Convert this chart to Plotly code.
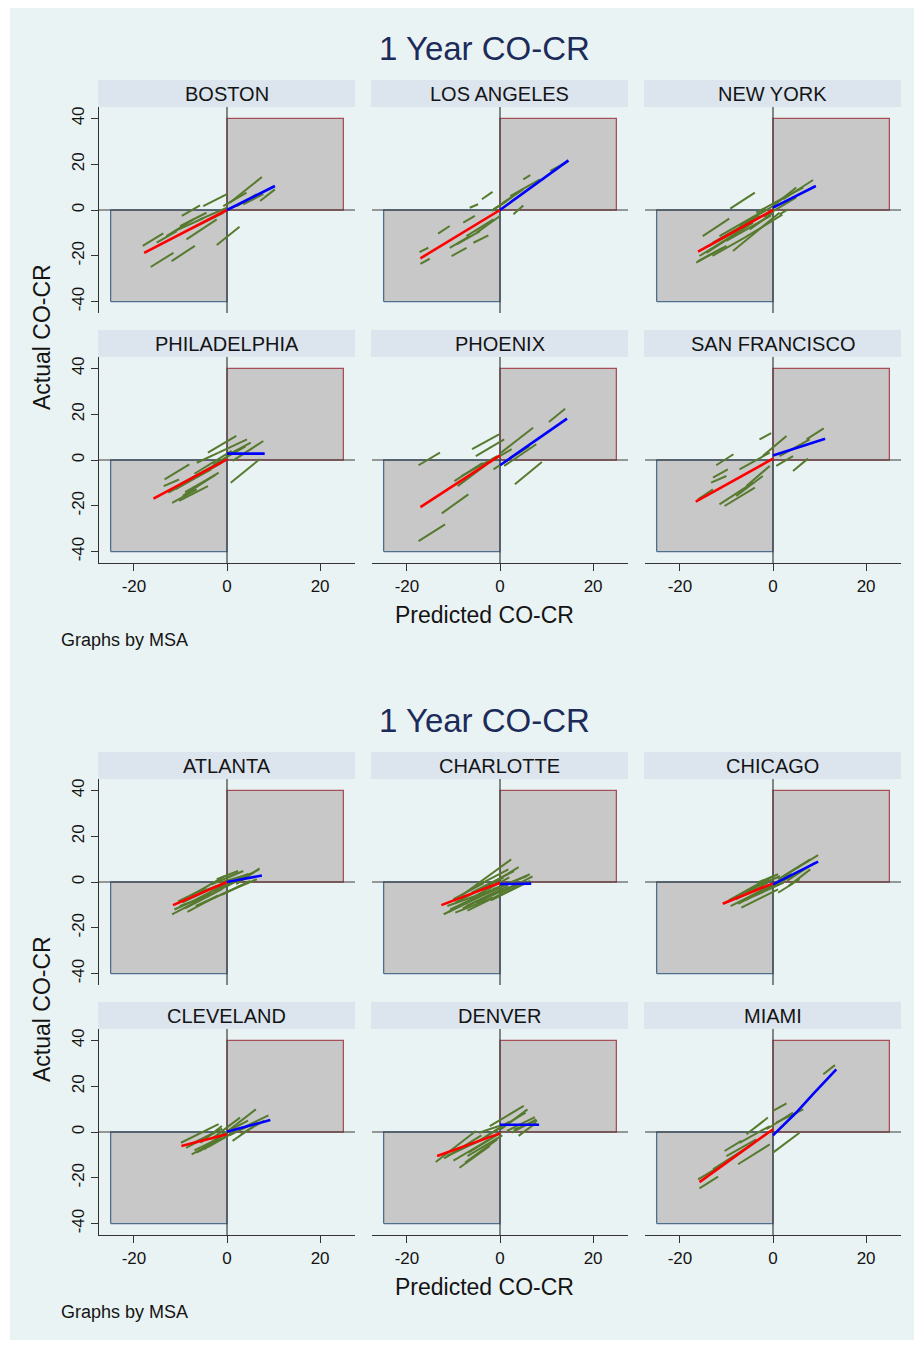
import plotly.graph_objects as go

# page body has an 8px margin in the browser; the figure is sized/offset to compensate
OFF = 8
W, H = 924 - OFF, 1347 - OFF

GRAPH_TITLE = "1 Year CO-CR"
X_TITLE = "Predicted CO-CR"
Y_TITLE = "Actual CO-CR"
NOTE = "Graphs by MSA"

CITIES_TOP = ["BOSTON", "LOS ANGELES", "NEW YORK", "PHILADELPHIA", "PHOENIX", "SAN FRANCISCO"]
CITIES_BOTTOM = ["ATLANTA", "CHARLOTTE", "CHICAGO", "CLEVELAND", "DENVER", "MIAMI"]

X_TICKS = [-20, 0, 20]
X_TICK_LABELS = ["-20", "0", "20"]
Y_TICKS = [-40, -20, 0, 20, 40]
Y_TICK_LABELS = ["-40", "-20", "0", "20", "40"]
X_RANGE = [-27.5, 27.5]
Y_RANGE = [-45, 45]

# quadrant boxes (data units)
BOX_NEG_X = [-25, 0]
BOX_NEG_Y = [-40, 0]
BOX_POS_X = [0, 25]
BOX_POS_Y = [0, 40]

# green segments: (x0, y0, x1, y1)
BOSTON_SEG = [
    (-18.1, -15.7, -13.7, -10.2), (-16.4, -24.9, -11.5, -18.7), (-11.9, -22.3, -6.9, -15.7),
    (-9.7, -2.6, -5.8, 2.0), (-2.2, -15.3, 2.7, -7.3), (-5.1, 1.7, 0.0, 6.9),
    (-10.1, -7.0, -4.4, -1.2), (-13.0, -11.4, -7.2, -4.1), (-8.7, -12.8, -2.2, -4.1),
    (-8.0, -8.5, -0.8, -1.2), (-5.8, -4.1, 0.0, 1.0), (-0.8, 1.7, 4.2, 7.6),
    (0.6, 3.2, 7.5, 14.4), (2.1, 1.7, 6.4, 6.9), (7.1, 3.9, 10.3, 9.0),
    (3.5, 2.5, 7.8, 6.9), (-15.1, -14.3, -10.8, -9.2), (-11.0, -9.0, -5.0, -3.5),
]
LOSANGELES_SEG = [
    (-17.3, -18.4, -15.4, -16.5), (-17.1, -23.5, -15.1, -21.3), (-13.3, -10.3, -10.8, -7.0),
    (-10.4, -20.1, -7.2, -16.5), (-10.8, -16.5, -6.5, -11.4), (-5.7, -14.3, -2.5, -11.1),
    (-7.9, -5.5, -5.4, -2.6), (-6.5, 1.0, -4.7, 2.5), (-3.9, 4.7, -1.6, 7.9),
    (-5.0, -9.9, 0.0, -2.6), (-7.2, -11.4, -1.4, -4.1), (-1.4, 0.3, 1.4, 3.9),
    (0.7, 3.2, 5.0, 9.0), (2.9, -1.9, 5.0, 2.0), (5.0, 13.4, 6.5, 15.2),
    (2.2, 6.1, 8.6, 13.4), (10.8, 17.1, 14.7, 21.4), (-1.8, -0.4, 2.9, 6.1),
    (-9.3, -15.0, -4.3, -9.2),
]
NEWYORK_SEG = [
    (-9.2, 0.6, -3.9, 7.6), (-15.1, -11.4, -9.4, -3.8), (-16.5, -23.0, -10.0, -15.7),
    (-15.8, -20.1, -7.2, -9.2), (-14.3, -18.7, -4.3, -5.5), (-8.6, -17.9, 1.4, -1.2),
    (-12.9, -14.3, -2.9, -2.6), (-11.5, -11.4, -1.4, 0.3), (-7.2, -7.0, 0.0, 1.7),
    (-3.6, -1.2, 2.9, 6.1), (0.0, 1.7, 5.0, 9.8), (2.2, 4.7, 8.6, 13.1),
    (1.4, -1.9, 3.2, 0.3), (-16.1, -22.3, -10.8, -16.5), (-5.0, -8.5, 0.0, -1.2),
    (2.9, 6.1, 6.5, 9.8), (-14.0, -16.0, -5.0, -6.0), (-10.0, -13.5, -0.5, -2.5),
    (-6.0, -12.0, 2.0, -2.0), (-2.0, -3.0, 5.0, 5.5), (-13.0, -20.0, -6.0, -12.0),
]
PHILADELPHIA_SEG = [
    (-13.4, -8.5, -8.1, -1.9), (-13.6, -11.4, -10.3, -8.5), (-11.8, -18.7, -6.5, -12.8),
    (-10.3, -17.9, -4.1, -11.4), (-12.6, -14.3, -3.4, -4.1), (-11.1, -12.8, -1.1, -1.2),
    (-6.5, -1.2, -1.8, 3.2), (-4.1, 3.2, 2.0, 10.5), (-1.8, 3.2, 4.3, 9.0),
    (-0.3, 1.7, 5.1, 7.6), (1.2, -0.4, 7.8, 8.3), (0.8, -9.9, 7.0, 0.3),
    (-8.0, -8.5, -0.3, 0.3), (-9.5, -15.7, -1.8, -5.5), (-10.0, -10.5, -2.0, -1.5),
    (-7.0, -6.0, 1.0, 4.0), (-3.0, -2.0, 4.0, 6.0), (-9.0, -14.0, -2.5, -6.5),
]
PHOENIX_SEG = [
    (-17.5, -2.3, -12.9, 3.2), (-17.5, -35.4, -11.8, -28.1), (-12.5, -23.3, -6.8, -15.0),
    (-9.8, -9.2, -3.7, -1.2), (-8.3, -7.0, -0.6, 1.7), (-6.0, 4.7, -0.2, 11.2),
    (-5.2, 1.7, 0.9, 9.0), (3.2, -10.6, 9.0, -0.9), (10.5, 16.6, 14.0, 22.4),
    (0.2, 3.2, 7.1, 14.1), (-1.4, -4.1, 6.3, 6.1), (0.9, -2.6, 7.8, 6.9),
    (-3.7, -2.6, 2.5, 4.7), (-9.1, -11.4, -2.9, -1.9),
]
SANFRANCISCO_SEG = [
    (-12.2, -2.3, -8.5, 2.5), (-12.9, -7.7, -9.7, -4.1), (-13.3, -9.9, -10.0, -7.0),
    (-11.5, -19.4, -4.3, -9.9), (-10.4, -20.1, -3.9, -12.1), (-16.1, -17.2, -12.9, -12.8),
    (-7.2, -4.1, -0.7, 3.2), (-2.9, 9.0, -0.4, 11.7), (-2.2, 1.7, 2.9, 10.5),
    (0.7, -2.6, 4.3, 1.7), (1.4, 1.7, 7.9, 9.0), (4.3, -4.8, 7.5, 0.6),
    (7.2, 9.0, 10.9, 13.8), (-5.7, -11.4, -0.7, -2.6), (-7.9, -15.7, -2.2, -7.0),
]
ATLANTA_SEG = [
    (-11.8, -14.1, -5.6, -7.6), (-11.3, -12.0, -3.3, -4.7), (-9.6, -9.0, -2.2, -1.7),
    (-7.8, -6.1, -0.5, 2.6), (-6.7, -10.5, 1.3, -3.2), (-5.0, -9.0, 3.5, -1.0),
    (-3.3, -1.0, 3.5, 4.8), (-1.6, -0.3, 5.8, 4.1), (0.1, -1.7, 6.9, 5.5),
    (1.3, -3.2, 6.4, 1.2), (-10.1, -10.5, -3.9, -6.1), (-2.2, 1.2, 2.4, 4.8),
    (-6.1, -4.7, 0.7, 0.4), (-9.0, -11.5, -1.0, -3.0), (-7.0, -8.0, 1.0, 0.5),
    (-4.5, -6.5, 3.0, 1.5), (-3.0, -4.0, 4.5, 3.5), (-10.5, -8.5, -4.5, -2.5),
    (-8.5, -13.0, -2.0, -6.0), (-1.0, -5.5, 5.0, 0.5), (2.0, -1.0, 7.0, 6.0),
]
CHARLOTTE_SEG = [
    (-12.1, -14.1, -3.9, -6.1), (-10.7, -12.0, -1.6, -3.2), (-9.6, -9.0, 0.7, 1.9),
    (-8.4, -6.1, 2.4, 9.9), (-6.1, -4.7, 3.0, 4.8), (-3.9, -6.1, 6.4, 3.4),
    (-1.6, -3.2, 5.8, 2.6), (-11.3, -10.5, -3.3, -4.7), (-7.3, -10.5, 1.8, -1.7),
    (-5.0, -1.7, 1.8, 5.5), (-9.6, -13.4, -1.6, -6.9), (-1.6, -7.6, 5.2, -0.3),
    (-11.0, -13.0, -3.0, -4.5), (-8.0, -11.5, 0.5, -3.0), (-6.5, -7.5, 2.0, 2.0),
    (-4.0, -3.5, 4.0, 6.5), (-2.0, -8.0, 6.5, 0.5), (-10.0, -7.5, -3.5, -0.5),
    (-7.0, -12.5, 0.0, -5.5), (0.0, -5.0, 7.0, 2.5), (-5.0, -9.0, 3.5, -1.0),
]
CHICAGO_SEG = [
    (-10.2, -9.0, -2.3, -0.3), (-9.1, -10.5, -0.6, -1.7), (-6.8, -11.2, 1.1, -3.2),
    (-5.7, -4.7, 0.0, 2.6), (-4.0, -6.1, 2.3, -0.3), (1.1, 1.2, 8.0, 9.9),
    (2.3, 2.6, 9.7, 11.7), (1.1, -4.7, 5.7, 1.2), (3.4, -1.7, 8.0, 5.5),
    (-8.0, -7.6, -1.1, -0.3), (-3.4, -0.3, 1.1, 3.4), (-9.5, -8.0, -2.0, 0.5),
    (-7.5, -9.5, 0.0, -1.5), (-6.0, -8.0, 2.0, 0.0), (-2.0, -3.0, 4.0, 3.5),
    (0.0, -2.0, 6.0, 5.0), (3.0, 0.5, 9.0, 8.5), (-4.5, -2.5, 1.5, 2.5),
]
CLEVELAND_SEG = [
    (-9.9, -4.7, -1.8, 3.4), (-7.6, -9.8, 0.1, -1.7), (-6.5, -9.0, -0.3, -0.3),
    (-4.9, -7.6, 0.8, 1.2), (-8.8, -6.9, -2.6, -0.3), (-3.4, -3.2, 2.8, 6.3),
    (-0.3, -0.3, 6.2, 9.9), (1.2, -3.9, 5.8, 2.6), (2.8, 1.2, 8.9, 7.3),
    (-5.7, -4.7, -1.1, 2.6), (-8.0, -5.5, -1.0, 1.5), (-6.0, -8.5, 1.0, -0.5),
    (-4.0, -6.5, 2.0, 0.5), (-2.0, -2.0, 4.5, 5.0), (0.5, -1.5, 6.5, 4.5),
    (3.0, -1.0, 8.0, 5.0), (-7.0, -8.0, -2.0, -3.0),
]
DENVER_SEG = [
    (-13.8, -13.1, -5.2, 0.4), (-8.7, -15.6, -2.2, -6.1), (-7.5, -13.4, -0.6, -3.2),
    (-6.8, -9.0, 0.2, -0.3), (-4.5, -0.3, -0.2, 2.6), (-2.2, 2.6, 5.1, 11.4),
    (0.2, 1.2, 5.9, 9.9), (2.5, -0.3, 7.8, 5.5), (4.0, -1.7, 7.8, 4.1),
    (-11.4, -10.5, -3.7, -3.2), (-5.2, -4.7, -0.6, 1.2), (-12.0, -11.5, -4.0, -1.5),
    (-10.0, -12.5, -2.5, -3.5), (-7.0, -10.5, 0.5, -1.5), (-1.0, 0.5, 5.5, 8.5),
    (1.5, 0.5, 7.5, 6.5), (3.0, 1.0, 8.0, 5.0), (-3.0, -2.0, 2.0, 4.5),
]
MIAMI_SEG = [
    (-15.8, -24.6, -11.8, -19.5), (-16.1, -20.7, -10.0, -13.4), (-10.4, -8.3, -6.8, -3.9),
    (-7.5, -14.1, -0.7, -5.4), (-5.7, -1.0, -1.1, 6.3), (0.0, -9.0, 5.7, -0.3),
    (0.0, 9.2, 2.9, 12.5), (10.8, 25.2, 13.3, 29.2), (-10.0, -10.5, -3.6, -3.2),
    (-7.2, -4.7, -0.7, 2.6), (-1.4, 1.2, 4.3, 8.5), (0.7, 4.1, 6.5, 9.9),
    (-12.9, -16.3, -5.0, -6.1),
]

# fitted lines: red (predicted < 0), blue (predicted > 0)
BOSTON_RED = ([-17.8, 0], [-18.7, 0])
BOSTON_BLUE = ([0, 10.3], [0, 10.5])
LOSANGELES_RED = ([-17.1, 0], [-21.1, 0])
LOSANGELES_BLUE = ([0, 14.7], [0, 21.7])
NEWYORK_RED = ([-16.1, 0], [-18.2, 0])
NEWYORK_BLUE = ([0, 9.2], [1.0, 10.5])
PHILADELPHIA_RED = ([-15.8, 0], [-16.9, 0.3])
PHILADELPHIA_BLUE = ([0, 8.1], [2.8, 2.8])
PHOENIX_RED = ([-17.1, 0], [-20.6, 2.0])
PHOENIX_BLUE = ([0, 14.4], [-2.3, 18.1])
SANFRANCISCO_RED = ([-16.6, 0], [-18.2, 0.6])
SANFRANCISCO_BLUE = ([0, 11.2], [2.0, 9.3])
ATLANTA_RED = ([-11.6, 0], [-10.1, 0])
ATLANTA_BLUE = ([0, 7.5], [0, 2.8])
CHARLOTTE_RED = ([-12.6, 0], [-10.1, -0.3])
CHARLOTTE_BLUE = ([0, 6.7], [-0.9, -0.7])
CHICAGO_RED = ([-10.8, 0], [-9.5, -0.6])
CHICAGO_BLUE = ([0, 9.7], [-1.0, 8.9])
CLEVELAND_RED = ([-9.8, 0], [-6.1, -1.0])
CLEVELAND_BLUE = ([0, 9.3], [0.1, 5.2])
DENVER_RED = ([-13.5, 0], [-10.5, -0.6])
DENVER_BLUE = ([0, 8.4], [3.2, 3.2])
MIAMI_RED = ([-15.8, 0], [-21.9, 1.2])
MIAMI_BLUE = ([0, 5.0, 8.6, 13.6], [-1.5, 8.5, 16.5, 27.4])

PANELS = [
    (BOSTON_SEG, BOSTON_RED, BOSTON_BLUE),
    (LOSANGELES_SEG, LOSANGELES_RED, LOSANGELES_BLUE),
    (NEWYORK_SEG, NEWYORK_RED, NEWYORK_BLUE),
    (PHILADELPHIA_SEG, PHILADELPHIA_RED, PHILADELPHIA_BLUE),
    (PHOENIX_SEG, PHOENIX_RED, PHOENIX_BLUE),
    (SANFRANCISCO_SEG, SANFRANCISCO_RED, SANFRANCISCO_BLUE),
    (ATLANTA_SEG, ATLANTA_RED, ATLANTA_BLUE),
    (CHARLOTTE_SEG, CHARLOTTE_RED, CHARLOTTE_BLUE),
    (CHICAGO_SEG, CHICAGO_RED, CHICAGO_BLUE),
    (CLEVELAND_SEG, CLEVELAND_RED, CLEVELAND_BLUE),
    (DENVER_SEG, DENVER_RED, DENVER_BLUE),
    (MIAMI_SEG, MIAMI_RED, MIAMI_BLUE),
]
NAMES = CITIES_TOP + CITIES_BOTTOM

# ---- styling ----
FONT = "Liberation Sans, Arial, sans-serif"
BG_OUTER = "#FFFFFF"
BG_GRAPH = "#EAF3F3"
STRIP = "#DCE5EE"
GRID = "#EAF2F3"
BOX_FILL = "#C8C8C8"
BOX_NEG_EDGE = "#4E6E8E"
BOX_POS_EDGE = "#A8505A"
ZERO = "#3C3C3C"
GREEN = "#567A2E"
TITLE_COL = "#1C2B5A"
TXT = "#141414"


def px_x(p):
    return (p - OFF) / W


def px_y(p):
    return 1 - (p - OFF) / H


fig = go.Figure()
shapes = []
annotations = []

# graph background
shapes.append(dict(type="rect", xref="paper", yref="paper", x0=px_x(10), x1=px_x(914),
                   y0=px_y(7), y1=px_y(1340), fillcolor=BG_GRAPH, line=dict(width=0), layer="below"))


def add_line(xs, ys, ax, color, width):
    fig.add_trace(go.Scatter(x=xs, y=ys, mode="lines", line=dict(color=color, width=width),
                             xaxis="x" + ax, yaxis="y" + ax, showlegend=False, hoverinfo="skip"))


for i, (segs, red, blue) in enumerate(PANELS):
    g = i // 6
    r = (i % 6) // 3
    c = i % 3
    ax = "" if i == 0 else str(i + 1)
    left = 99 + 273 * c
    right = 355 + 273 * c
    top = 107 + 250 * r + 672 * g
    bottom = 313 + 250 * r + 672 * g
    htop = 80 + 250 * r + 672 * g
    bottom_row = (r == 1)
    left_col = (c == 0)

    # strip
    shapes.append(dict(type="rect", xref="paper", yref="paper", x0=px_x(left - 1), x1=px_x(right),
                       y0=px_y(top), y1=px_y(htop), fillcolor=STRIP, line=dict(width=0), layer="below"))
    annotations.append(dict(xref="paper", yref="paper", x=px_x((left - 1 + right) / 2), y=px_y((htop + top) / 2 + 0.5),
                            text=NAMES[i], showarrow=False, xanchor="center", yanchor="middle",
                            font=dict(family=FONT, size=20, color=TXT)))

    # quadrant boxes (filled traces, above gridlines)
    for bx, by, edge in ((BOX_NEG_X, BOX_NEG_Y, BOX_NEG_EDGE), (BOX_POS_X, BOX_POS_Y, BOX_POS_EDGE)):
        fig.add_trace(go.Scatter(
            x=[bx[0], bx[1], bx[1], bx[0], bx[0]], y=[by[0], by[0], by[1], by[1], by[0]],
            mode="lines", fill="toself", fillcolor=BOX_FILL, line=dict(color=edge, width=1.3),
            xaxis="x" + ax, yaxis="y" + ax, showlegend=False, hoverinfo="skip"))
    # reference lines at zero
    add_line([0, 0], Y_RANGE, ax, ZERO, 1.2)
    add_line(X_RANGE, [0, 0], ax, ZERO, 1.2)

    # green segments
    sx, sy = [], []
    for (x0, y0, x1, y1) in segs:
        sx += [x0, x1, None]
        sy += [y0, y1, None]
    add_line(sx, sy, ax, GREEN, 2.0)
    add_line(red[0], red[1], ax, "#FF0000", 2.6)
    add_line(blue[0], blue[1], ax, "#0000FF", 2.6)

    fig.layout["xaxis" + ax] = dict(
        domain=[px_x(left), px_x(right)], range=X_RANGE, anchor="y" + ax,
        showgrid=False, zeroline=False, fixedrange=True,
        tickmode="array", tickvals=X_TICKS, ticktext=X_TICK_LABELS,
        showticklabels=bottom_row, ticks="outside" if bottom_row else "",
        ticklen=7, tickwidth=1.2, tickcolor="#333333",
        showline=bottom_row, linecolor="#333333", linewidth=1.3,
        tickfont=dict(family=FONT, size=17, color=TXT),
    )
    fig.layout["yaxis" + ax] = dict(
        domain=[px_y(bottom), px_y(top)], range=Y_RANGE, anchor="x" + ax,
        showgrid=True, gridcolor=GRID, gridwidth=1, zeroline=False, fixedrange=True,
        tickmode="array", tickvals=Y_TICKS, ticktext=Y_TICK_LABELS,
        showticklabels=left_col, ticks="outside" if left_col else "", tickangle=-90,
        ticklen=7, tickwidth=1.2, tickcolor="#333333",
        showline=left_col, linecolor="#333333", linewidth=1.3,
        tickfont=dict(family=FONT, size=17, color=TXT),
    )

for g in range(2):
    off = 672 * g
    annotations.append(dict(xref="paper", yref="paper", x=px_x(484), y=px_y(48 + off), text=GRAPH_TITLE,
                            showarrow=False, xanchor="center", yanchor="middle",
                            font=dict(family=FONT, size=33, color=TITLE_COL)))
    annotations.append(dict(xref="paper", yref="paper", x=px_x(484), y=px_y(615 + off), text=X_TITLE,
                            showarrow=False, xanchor="center", yanchor="middle",
                            font=dict(family=FONT, size=23, color=TXT)))
    annotations.append(dict(xref="paper", yref="paper", x=px_x(42), y=px_y(337 + off), text=Y_TITLE,
                            showarrow=False, xanchor="center", yanchor="middle", textangle=-90,
                            font=dict(family=FONT, size=23, color=TXT)))
    annotations.append(dict(xref="paper", yref="paper", x=px_x(59), y=px_y(640 + off), text=NOTE,
                            showarrow=False, xanchor="left", yanchor="middle",
                            font=dict(family=FONT, size=18, color=TXT)))

fig.update_layout(
    width=W, height=H, margin=dict(l=0, r=0, t=0, b=0),
    paper_bgcolor=BG_OUTER, plot_bgcolor="#FFFFFF",
    shapes=shapes, annotations=annotations, showlegend=False,
    font=dict(family=FONT),
)

fig.write_html("out.html")
